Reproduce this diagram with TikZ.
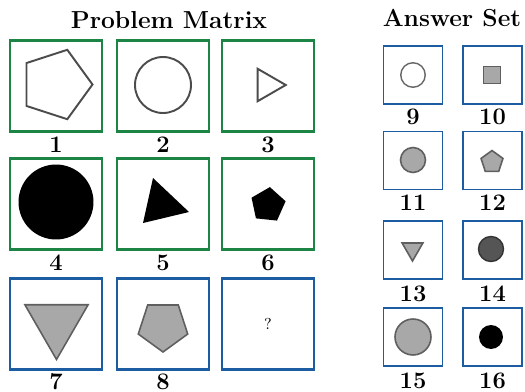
\documentclass[tikz,border=0pt]{standalone}
\usetikzlibrary{positioning,shapes.geometric}

\definecolor{pmgreen}{RGB}{28,132,68}
\definecolor{asblue}{RGB}{28,92,160}
\definecolor{shapegray}{RGB}{168,168,168}
\definecolor{edgegray}{RGB}{95,95,95}
\definecolor{darkdot}{RGB}{85,85,85}

\begin{document}
\begin{tikzpicture}[x=0.02cm,y=-0.02cm,
  font=\bfseries,
  pbox/.style={draw=pmgreen,line width=1.2pt,minimum width=1.84cm,minimum height=1.82cm},
  qbox/.style={pbox,draw=asblue},
  abox/.style={draw=asblue,line width=1pt,minimum width=1.18cm,minimum height=1.16cm},
  num/.style={font=\fontsize{13.5}{15}\selectfont\bfseries,inner sep=0.5pt},
  ttl/.style={font=\fontsize{14}{16}\selectfont\bfseries},
  outl/.style={draw=black!70,line width=1.1pt,inner sep=0pt},
  solid/.style={fill=black,inner sep=0pt},
  gray shape/.style={draw=edgegray,fill=shapegray,line width=0.9pt,inner sep=0pt},
  poly/.style={regular polygon,regular polygon sides=#1}
]
\useasboundingbox (0,0) rectangle (525,392);

\node[ttl] (pmtitle) at (169,20) {Problem Matrix};
\node[ttl] (astitle) at (452,18) {Answer Set};

% problem matrix
\foreach \n/\x/\y/\st in {1/56/86/pbox,2/163/86/pbox,3/268/86/pbox,
                          4/56/204/pbox,5/163/204/pbox,6/268/204/pbox,
                          7/56/324/qbox,8/163/324/qbox,9/268/324/qbox}{
  \node[\st] (p\n) at (\x,\y) {};
}
\foreach \n/\x/\y in {1/56/145,2/163/145,3/268/145,4/56/263,5/163/263,6/268/263,7/56/382,8/163/382}{
  \node[num] (pl\n) at (\x,\y) {\n};
}
\node[font=\small] (qm) at (p9) {?};

\node[outl,poly=5,minimum size=1.46cm,rotate=-90] (s1) at (56,84.5) {};
\node[outl,circle,minimum size=1.12cm] (s2) at (163,85) {};
\node[outl,poly=3,minimum size=0.75cm,rotate=-90] (s3) at (267,85) {};
\node[solid,circle,minimum size=1.5cm] (s4) at (56,202) {};
\fill (153,178) -- (189,212) -- (143,223) -- cycle;
\node[solid,poly=5,minimum size=0.72cm,rotate=-6] (s6) at (268,205) {};
\node[gray shape,poly=3,minimum size=1.46cm,rotate=180] (s7) at (56.5,323) {};
\node[gray shape,poly=5,minimum size=1.04cm,rotate=180] (s8) at (163,326) {};

% answer set
\foreach \n/\x/\y/\ly in {9/413/75/117,10/492.5/75/117,11/413/160.5/203,12/492.5/160.5/203,
                          13/413/250/294,14/492.5/250/294,15/413/337/381,16/492.5/337/381}{
  \node[abox] (a\n) at (\x,\y) {};
  \node[num] (al\n) at (\x,\ly) {\n};
}
\node[draw=black!60,line width=0.8pt,circle,minimum size=0.49cm,inner sep=0pt] (c9) at (413,75) {};
\node[gray shape,minimum size=0.34cm] (c10) at (492,75) {};
\node[gray shape,circle,minimum size=0.5cm] (c11) at (413,160) {};
\node[gray shape,poly=5,minimum size=0.46cm] (c12) at (492,162) {};
\node[gray shape,poly=3,minimum size=0.48cm,rotate=180] (c13) at (412.5,249) {};
\node[draw=black!80,fill=darkdot,line width=0.8pt,circle,minimum size=0.5cm,inner sep=0pt] (c14) at (491,249) {};
\node[gray shape,circle,minimum size=0.72cm] (c15) at (413,337) {};
\node[solid,circle,minimum size=0.48cm] (c16) at (491,337) {};
\end{tikzpicture}
\end{document}
